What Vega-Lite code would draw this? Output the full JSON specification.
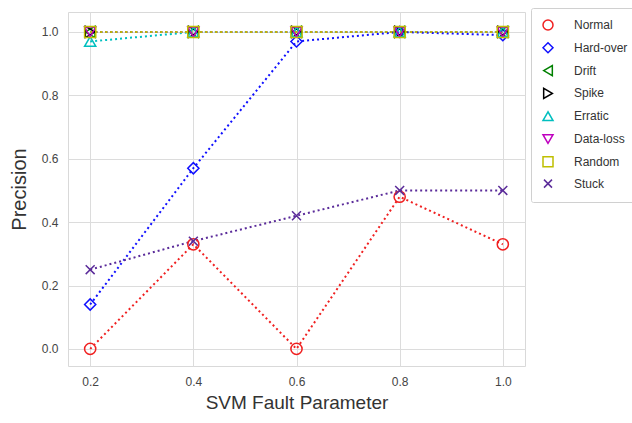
{
  "$schema": "https://vega.github.io/schema/vega-lite/v6.json",
  "width": 457,
  "height": 354,
  "autosize": {"type": "none"},
  "padding": {"left": 68, "top": 12, "right": 107, "bottom": 57},
  "background": "white",
  "config": {
    "font": "Liberation Sans",
    "view": {"stroke": "#d9d9d9", "strokeWidth": 1},
    "axis": {"gridColor": "#dcdcdc", "gridWidth": 1, "domain": false, "ticks": false, "labelColor": "#444444", "labelFontSize": 12, "titleColor": "#333333", "titleFontWeight": "normal"},
    "legend": {"orient": "none", "legendX": 463, "legendY": -4, "labelFontSize": 12, "labelColor": "#333333", "rowPadding": 6.8, "symbolSize": 100, "symbolStrokeWidth": 1.5, "symbolOffset": 0, "labelOffset": 20, "padding": 11, "strokeColor": "#d0d0d0", "fillColor": "white", "cornerRadius": 2}
  },
  "data": {"values": [
    {"s": "Normal", "x": 0.2, "y": 0.0}, {"s": "Normal", "x": 0.4, "y": 0.33}, {"s": "Normal", "x": 0.6, "y": 0.0}, {"s": "Normal", "x": 0.8, "y": 0.48}, {"s": "Normal", "x": 1.0, "y": 0.33},
    {"s": "Hard-over", "x": 0.2, "y": 0.14}, {"s": "Hard-over", "x": 0.4, "y": 0.57}, {"s": "Hard-over", "x": 0.6, "y": 0.97}, {"s": "Hard-over", "x": 0.8, "y": 1.0}, {"s": "Hard-over", "x": 1.0, "y": 0.99},
    {"s": "Drift", "x": 0.2, "y": 1.0}, {"s": "Drift", "x": 0.4, "y": 1.0}, {"s": "Drift", "x": 0.6, "y": 1.0}, {"s": "Drift", "x": 0.8, "y": 1.0}, {"s": "Drift", "x": 1.0, "y": 1.0},
    {"s": "Spike", "x": 0.2, "y": 1.0}, {"s": "Spike", "x": 0.4, "y": 1.0}, {"s": "Spike", "x": 0.6, "y": 1.0}, {"s": "Spike", "x": 0.8, "y": 1.0}, {"s": "Spike", "x": 1.0, "y": 1.0},
    {"s": "Erratic", "x": 0.2, "y": 0.97}, {"s": "Erratic", "x": 0.4, "y": 1.0}, {"s": "Erratic", "x": 0.6, "y": 1.0}, {"s": "Erratic", "x": 0.8, "y": 1.0}, {"s": "Erratic", "x": 1.0, "y": 1.0},
    {"s": "Data-loss", "x": 0.2, "y": 1.0}, {"s": "Data-loss", "x": 0.4, "y": 1.0}, {"s": "Data-loss", "x": 0.6, "y": 1.0}, {"s": "Data-loss", "x": 0.8, "y": 1.0}, {"s": "Data-loss", "x": 1.0, "y": 1.0},
    {"s": "Random", "x": 0.2, "y": 1.0}, {"s": "Random", "x": 0.4, "y": 1.0}, {"s": "Random", "x": 0.6, "y": 1.0}, {"s": "Random", "x": 0.8, "y": 1.0}, {"s": "Random", "x": 1.0, "y": 1.0},
    {"s": "Stuck", "x": 0.2, "y": 0.25}, {"s": "Stuck", "x": 0.4, "y": 0.34}, {"s": "Stuck", "x": 0.6, "y": 0.42}, {"s": "Stuck", "x": 0.8, "y": 0.5}, {"s": "Stuck", "x": 1.0, "y": 0.5}
  ]},
  "encoding": {
    "x": {"field": "x", "type": "quantitative", "scale": {"domain": [0.157, 1.043], "nice": false, "zero": false},
      "axis": {"values": [0.2, 0.4, 0.6, 0.8, 1.0], "format": ".1f", "title": "SVM Fault Parameter", "titleFontSize": 19, "labelPadding": 10, "titlePadding": 6}},
    "y": {"field": "y", "type": "quantitative", "scale": {"domain": [-0.054, 1.063], "nice": false, "zero": false},
      "axis": {"values": [0, 0.2, 0.4, 0.6, 0.8, 1.0], "format": ".1f", "title": "Precision", "titleFontSize": 20, "labelPadding": 10, "titlePadding": 12}},
    "color": {"field": "s", "type": "nominal",
      "scale": {"domain": ["Normal", "Hard-over", "Drift", "Spike", "Erratic", "Data-loss", "Random", "Stuck"],
                "range": ["#f02020", "#1010ff", "#008000", "#000000", "#00bfbf", "#bf00bf", "#bfbf00", "#5b2c9a"]},
      "legend": {"title": null}}
  },
  "layer": [
    {"mark": {"type": "line", "strokeDash": [2, 3], "strokeWidth": 2},
     "encoding": {"detail": {"field": "s"}}},
    {"mark": {"type": "point", "filled": false, "strokeWidth": 1.5, "size": 125, "opacity": 1},
     "encoding": {
       "shape": {"field": "s", "type": "nominal",
         "scale": {"domain": ["Normal", "Hard-over", "Drift", "Spike", "Erratic", "Data-loss", "Random", "Stuck"],
                   "range": ["circle", "diamond", "triangle-left", "triangle-right", "triangle-up", "triangle-down", "square", "M-0.8,-0.8L0.8,0.8M-0.8,0.8L0.8,-0.8"]},
         "legend": {"title": null}}
     }}
  ]
}
